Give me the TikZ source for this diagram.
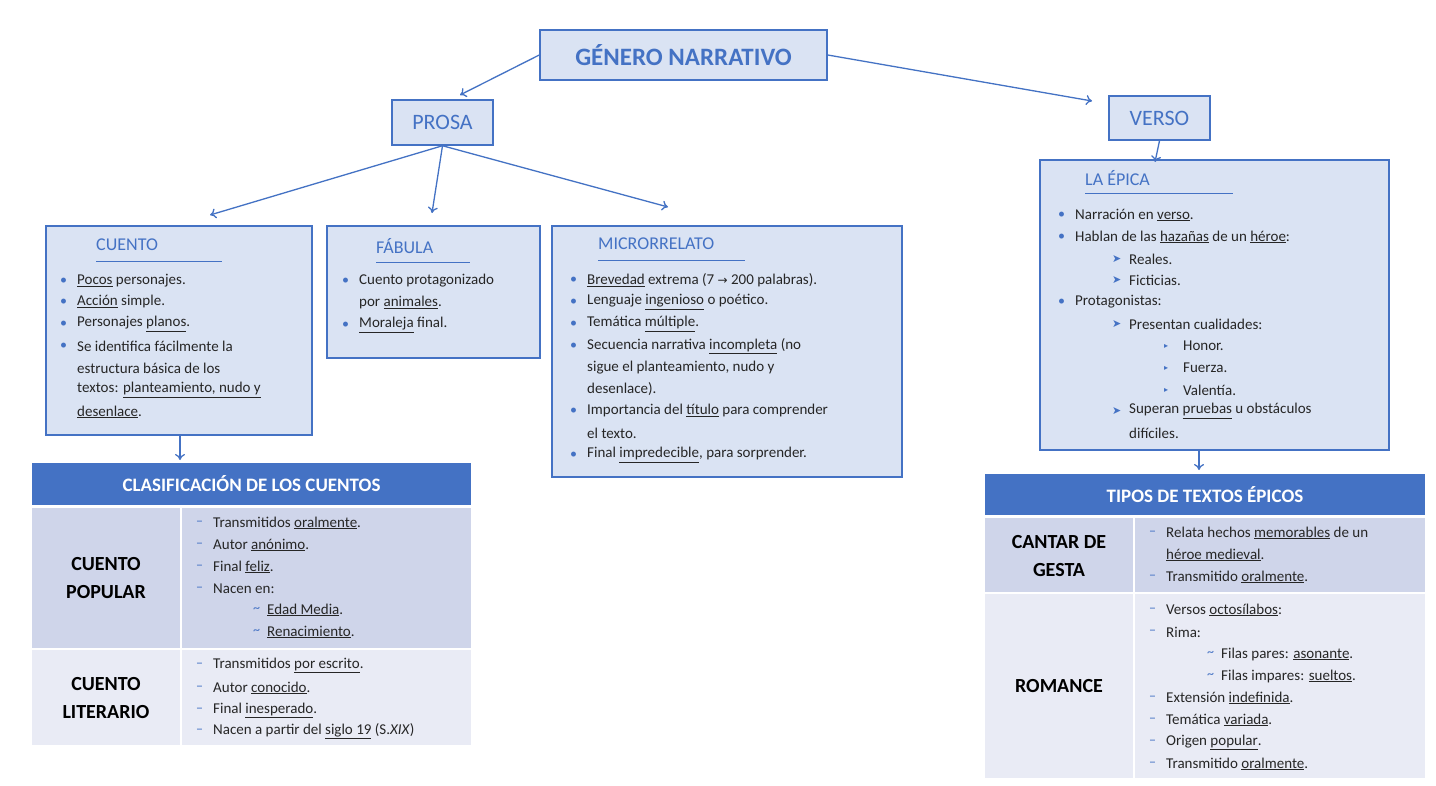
\documentclass[tikz,border=0pt]{standalone}
\usepackage{fontspec}
\setmainfont{Carlito}
\newfontfamily\sym{DejaVu Sans}
\usetikzlibrary{arrows.meta}
\definecolor{bl}{HTML}{4472C4}
\definecolor{lb}{HTML}{DAE3F3}
\definecolor{r1}{HTML}{CFD5EA}
\definecolor{r2}{HTML}{E9EBF5}
\definecolor{tx}{HTML}{262626}
\newcounter{tc}
\newcommand\tl[3]{\stepcounter{tc}\node[txt] (t\arabic{tc}) at (#1,#2) {#3};}
\newcommand\bu[3]{\stepcounter{tc}\node[mk] (m\arabic{tc}) at (#1-17,#2) {•};\tl{#1}{#2}{#3}}
\newcommand\da[3]{\stepcounter{tc}\node[mk] (m\arabic{tc}) at (#1-17,#2) {–};\tl{#1}{#2}{#3}}
\newcommand\ti[3]{\stepcounter{tc}\node[mk] (m\arabic{tc}) at (#1-14,#2) {\textasciitilde};\tl{#1}{#2}{#3}}
\newcommand\ar[3]{\stepcounter{tc}\node[mk,font=\sym\fontsize{11}{12}\selectfont] (m\arabic{tc}) at (#1-17,#2) {➤};\tl{#1}{#2}{#3}}
\newcommand\tr[3]{\stepcounter{tc}\node[mk,font=\sym\fontsize{8}{10}\selectfont] (m\arabic{tc}) at (#1-19,#2) {▸};\tl{#1}{#2}{#3}}
\newcommand\ul[1]{\underline{#1}}
\begin{document}
\begin{tikzpicture}[x=1pt,y=-1pt,
 txt/.style={anchor=west,inner sep=0pt,text=tx,font=\fontsize{15}{18}\selectfont},
 mk/.style={anchor=west,inner sep=0pt,text=bl,font=\fontsize{14}{16}\selectfont},
 box/.style={draw=bl,fill=lb,line width=1.5pt},
 hd/.style={anchor=west,inner sep=0pt,text=bl,font=\fontsize{18}{20}\selectfont},
 arr/.style={-{Stealth[length=9pt,width=7pt,open]},bl,line width=1.3pt,-{To[length=6pt,width=10pt]}},
 bold/.style={align=center,font=\bfseries\fontsize{20}{28}\selectfont,text=black}]
\useasboundingbox (0,0) rectangle (1436,786);
\fill[white] (0,0) rectangle (1436,786);
% main boxes
\node[box,minimum width=287,minimum height=50,text=bl,font=\bfseries\fontsize{25}{28}\selectfont] (gen) at (683.5,55) {GÉNERO NARRATIVO};
\node[box,minimum width=101,minimum height=45,text=bl,font=\fontsize{22}{24}\selectfont] (prosa) at (442.5,122.5) {PROSA};
\node[box,minimum width=101,minimum height=44,text=bl,font=\fontsize{22}{24}\selectfont] (verso) at (1159.5,118) {VERSO};
\draw[box] (46,226) rectangle (312,435); \node (cb) at (179,330.5) {};
\draw[box] (327,226) rectangle (540,358);
\draw[box] (552,226) rectangle (902,477);
\draw[box] (1040,160) rectangle (1389,450);
\coordinate (cu) at (210,215); \coordinate (fa) at (432,213); \coordinate (mi) at (668,207);
\coordinate (ep) at (1155,162);
\draw[arr] (gen.west) -- (460,95);
\draw[arr] (gen.east) -- (1092,101);
\draw[arr] (prosa.south) -- (cu);
\draw[arr] (prosa.south) -- (fa);
\draw[arr] (prosa.south) -- (mi);
\draw[arr] (verso.south) -- (ep);
\coordinate (c1) at (180,435); \coordinate (c2) at (180,460);
\coordinate (e1) at (1199,450); \coordinate (e2) at (1199,470);
\draw[arr] (c1) -- (c2);
\draw[arr] (e1) -- (e2);
% headers
\node[hd] (h1) at (96,245) {CUENTO}; \draw[bl,line width=1pt] (96,262) -- (222,262);
\node[hd] (h2) at (376,246) {FÁBULA}; \draw[bl,line width=1pt] (376,263) -- (470,263);
\node[hd] (h3) at (598,244) {MICRORRELATO}; \draw[bl,line width=1pt] (598,261) -- (745,261);
\node[hd] (h4) at (1085,178) {LA ÉPICA}; \draw[bl,line width=1pt] (1085,194) -- (1233,194);
% cuento
\bu{77}{281}{\ul{Pocos} personajes.}
\bu{77}{302}{\ul{Acción} simple.}
\bu{77}{324}{Personajes \ul{planos}.}
\bu{77}{346}{Se identifica fácilmente la}
\tl{77}{368}{estructura básica de los}
\tl{77}{390}{textos: \ul{planteamiento, nudo y}}
\tl{77}{412}{\ul{desenlace}.}
% fabula
\bu{359}{281}{Cuento protagonizado}
\tl{359}{303}{por \ul{animales}.}
\bu{359}{325}{\ul{Moraleja} final.}
% micro
\bu{587}{280}{\ul{Brevedad} extrema (7 {\sym\fontsize{12}{14}\selectfont →} 200 palabras).}
\bu{587}{302}{Lenguaje \ul{ingenioso} o poético.}
\bu{587}{324}{Temática \ul{múltiple}.}
\bu{587}{346}{Secuencia narrativa \ul{incompleta} (no}
\tl{587}{368}{sigue el planteamiento, nudo y}
\tl{587}{389}{desenlace).}
\bu{587}{411}{Importancia del \ul{título} para comprender}
\tl{587}{433}{el texto.}
\bu{587}{455}{Final \ul{impredecible}, para sorprender.}
% epica
\bu{1075}{215}{Narración en \ul{verso}.}
\bu{1075}{237}{Hablan de las \ul{hazañas} de un \ul{héroe}:}
\ar{1129}{259}{Reales.}
\ar{1129}{280}{Ficticias.}
\bu{1075}{302}{Protagonistas:}
\ar{1129}{324}{Presentan cualidades:}
\tr{1183}{346}{Honor.}
\tr{1183}{368}{Fuerza.}
\tr{1183}{390}{Valentía.}
\ar{1129}{411}{Superan \ul{pruebas} u obstáculos}
\tl{1129}{433}{difíciles.}
% table 1
\fill[bl] (32,463) rectangle (471,505);
\node[text=white,font=\bfseries\fontsize{19}{22}\selectfont] (th1) at (251.5,484) {CLASIFICACIÓN DE LOS CUENTOS};
\fill[r1] (32,508) rectangle (180,648); \fill[r1] (182,508) rectangle (471,648);
\fill[r2] (32,650) rectangle (180,745); \fill[r2] (182,650) rectangle (471,745);
\node[bold] (p1) at (106,578) {CUENTO\\POPULAR};
\node[bold] (p2) at (106,698) {CUENTO\\LITERARIO};
\da{213}{523}{Transmitidos \ul{oralmente}.}
\da{213}{545}{Autor \ul{anónimo}.}
\da{213}{567}{Final \ul{feliz}.}
\da{213}{589}{Nacen en:}
\ti{267}{610}{\ul{Edad Media}.}
\ti{267}{632}{\ul{Renacimiento}.}
\da{213}{665}{Transmitidos \ul{por escrito}.}
\da{213}{688}{Autor \ul{conocido}.}
\da{213}{710}{Final \ul{inesperado}.}
\da{213}{731}{Nacen a partir del \ul{siglo 19} (S.\textit{XIX})}
% table 2
\fill[bl] (985,474) rectangle (1425,515);
\node[text=white,font=\bfseries\fontsize{19}{22}\selectfont] (th2) at (1205,494.5) {TIPOS DE TEXTOS ÉPICOS};
\fill[r1] (985,518) rectangle (1133,592); \fill[r1] (1135,518) rectangle (1425,592);
\fill[r2] (985,594) rectangle (1133,778); \fill[r2] (1135,594) rectangle (1425,778);
\node[bold] (q1) at (1059,556) {CANTAR DE\\GESTA};
\node[bold] (q2) at (1059,686) {ROMANCE};
\da{1166}{533}{Relata hechos \ul{memorables} de un}
\tl{1166}{555}{\ul{héroe medieval}.}
\da{1166}{577}{Transmitido \ul{oralmente}.}
\da{1166}{610}{Versos \ul{octosílabos}:}
\da{1166}{632}{Rima:}
\ti{1221}{654}{Filas pares: \ul{asonante}.}
\ti{1221}{676}{Filas impares: \ul{sueltos}.}
\da{1166}{698}{Extensión \ul{indefinida}.}
\da{1166}{720}{Temática \ul{variada}.}
\da{1166}{742}{Origen \ul{popular}.}
\da{1166}{764}{Transmitido \ul{oralmente}.}
\end{tikzpicture}
\end{document}
